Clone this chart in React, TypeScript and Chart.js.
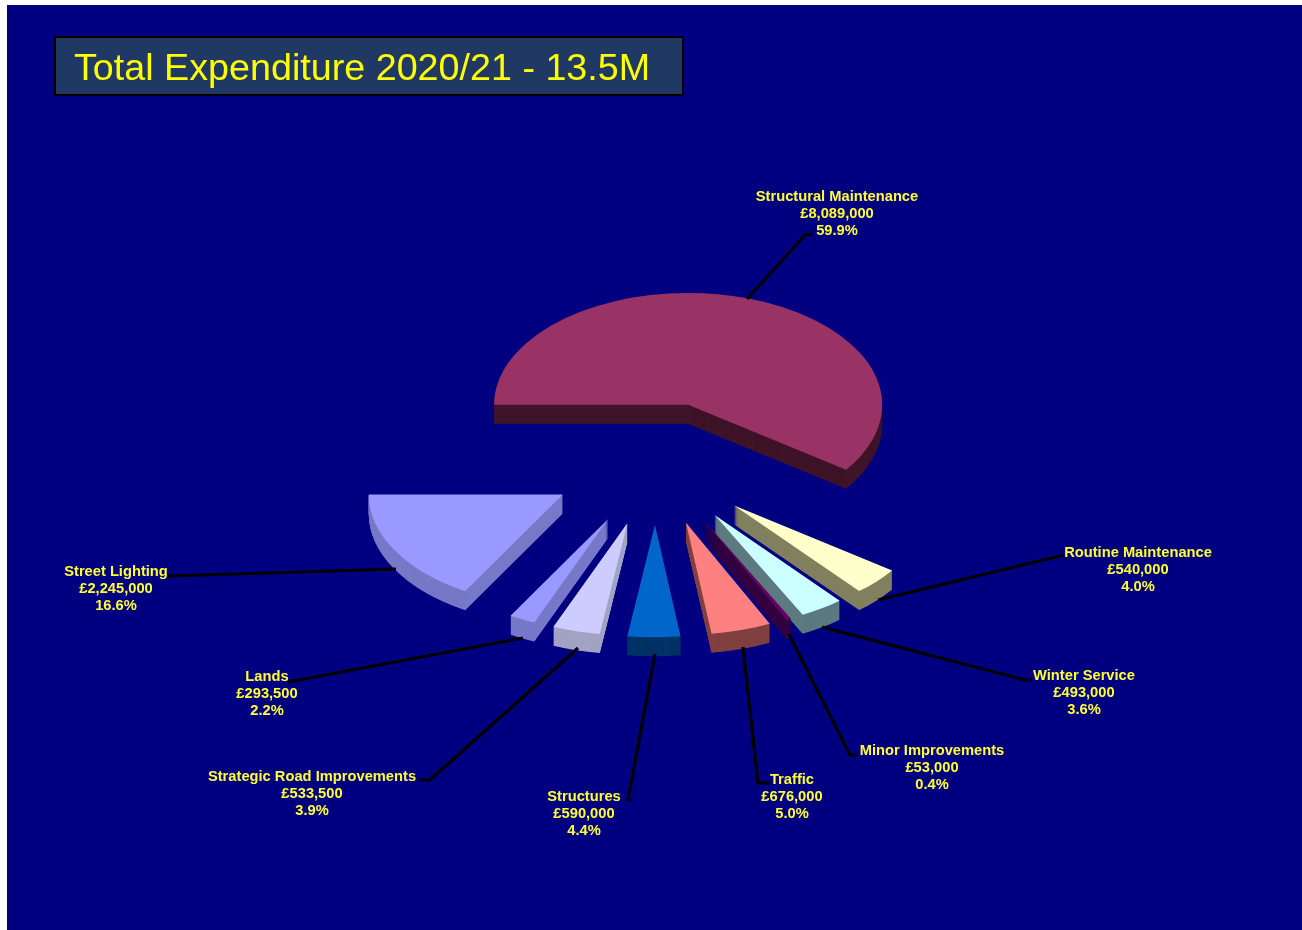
import React, { useEffect, useRef } from "react";
import { Chart, registerables } from "chart.js";

Chart.register(...registerables);

const TITLE = "Total Expenditure 2020/21 - 13.5M";
const categories = [
  "Structural Maintenance",
  "Routine Maintenance",
  "Winter Service",
  "Minor Improvements",
  "Traffic",
  "Structures",
  "Strategic Road Improvements",
  "Lands",
  "Street Lighting",
];
const expenditure = [8089000, 540000, 493000, 53000, 676000, 590000, 533500, 293500, 2245000];
const percentages = ["59.9%", "4.0%", "3.6%", "0.4%", "5.0%", "4.4%", "3.9%", "2.2%", "16.6%"];
const topColours = ["#993366", "#ffffcc", "#ccffff", "#660066", "#ff8080", "#0066cc", "#ccccff", "#9999ff", "#9999ff"];
const sideColours = ["#3f1428", "#80805f", "#5c7a80", "#33003f", "#804040", "#003366", "#a3a3c4", "#7878c8", "#7878c8"];

// Page-pixel layout of the labels and their leader lines.
const labelCentres = [
  [837, 197], [1138, 553], [1084, 676], [932, 751], [792, 780],
  [584, 797], [312, 777], [267, 677], [116, 572],
];
const leaderPaths = [
  [[813, 234], [805, 235], [747, 299]],
  [[1064, 555], [878, 600]],
  [[1032, 680], [1025, 680], [822, 627]],
  [[858, 755], [850, 755], [789, 634]],
  [[770, 783], [758, 783], [743, 647]],
  [[632, 800], [628, 800], [655, 654]],
  [[420, 780], [430, 780], [578, 648]],
  [[288, 682], [523, 638]],
  [[168, 576], [396, 569]],
];

const PAGE_X = 7;
const PAGE_Y = 5;
const SQUASH = 0.577;
const EXPLODE = 107;
const DEPTH = 19;
const RADIUS = 194;

const piePlugin = {
  id: "tiltedPie",
  beforeDraw(chart: any) {
    const ctx = chart.ctx;
    ctx.save();
    ctx.fillStyle = "#1f3864";
    ctx.strokeStyle = "#000000";
    ctx.lineWidth = 2;
    ctx.fillRect(55 - PAGE_X, 37 - PAGE_Y, 628, 58);
    ctx.strokeRect(55 - PAGE_X, 37 - PAGE_Y, 628, 58);
    ctx.restore();
  },
  beforeDatasetsDraw(chart: any) {
    const ctx = chart.ctx;
    const arcs = chart.getDatasetMeta(0).data;
    const drawArc = (arc: any, dy: number, colour?: string) => {
      const { x, y, startAngle, endAngle } = arc;
      const mid = (startAngle + endAngle) / 2;
      const saved = arc.options;
      if (colour) arc.options = { ...saved, backgroundColor: colour };
      ctx.save();
      ctx.translate(x, y);
      ctx.scale(1, SQUASH);
      ctx.translate(-x, -y);
      ctx.translate(Math.cos(mid) * EXPLODE, Math.sin(mid) * EXPLODE + dy / SQUASH);
      arc.draw(ctx);
      ctx.restore();
      arc.options = saved;
    };
    arcs.forEach((arc: any, i: number) => {
      for (let d = DEPTH; d > 0; d -= 0.5) drawArc(arc, d, sideColours[i]);
    });
    arcs.forEach((arc: any) => drawArc(arc, 0));
    return false;
  },
  afterDraw(chart: any) {
    const ctx = chart.ctx;
    ctx.save();
    ctx.strokeStyle = "#000000";
    ctx.lineWidth = 3.2;
    ctx.lineJoin = "round";
    leaderPaths.forEach((path) => {
      ctx.beginPath();
      path.forEach(([px, py], i) => {
        if (i === 0) ctx.moveTo(px - PAGE_X, py - PAGE_Y);
        else ctx.lineTo(px - PAGE_X, py - PAGE_Y);
      });
      ctx.stroke();
    });
    ctx.fillStyle = "#ffff33";
    ctx.font = "bold 14.7px 'Liberation Sans', Arial, sans-serif";
    ctx.textAlign = "center";
    ctx.textBaseline = "middle";
    categories.forEach((name, i) => {
      const [cx, cy] = labelCentres[i];
      const lines = [name, "£" + expenditure[i].toLocaleString("en-GB"), percentages[i]];
      lines.forEach((line, j) => ctx.fillText(line, cx - PAGE_X, cy - PAGE_Y + j * 17));
    });
    ctx.restore();
  },
};

export default function App() {
  const ref = useRef<HTMLCanvasElement | null>(null);
  useEffect(() => {
    if (!ref.current) return;
    const chart = new Chart(ref.current, {
      type: "pie",
      data: {
        labels: categories,
        datasets: [
          {
            data: expenditure,
            backgroundColor: topColours,
            borderWidth: 0,
            radius: RADIUS,
          },
        ],
      },
      options: {
        responsive: false,
        animation: false,
        rotation: -90,
        events: [],
        layout: { padding: { left: 67, right: 65, top: 42, bottom: 95 } },
        plugins: {
          legend: { display: false },
          tooltip: { enabled: false },
          title: {
            display: true,
            text: TITLE,
            align: "start",
            color: "#ffff00",
            padding: 0,
            font: { family: "'Liberation Sans', Arial, sans-serif", size: 37.7, weight: "normal", lineHeight: 1.2 },
          },
        },
      },
      plugins: [piePlugin],
    } as any);
    return () => chart.destroy();
  }, []);
  return (
    <div style={{ position: "absolute", left: PAGE_X, top: PAGE_Y, width: 1295, height: 925, background: "#000080", overflow: "hidden" }}>
      <canvas ref={ref} width={1295} height={925} style={{ display: "block" }} />
    </div>
  );
}
